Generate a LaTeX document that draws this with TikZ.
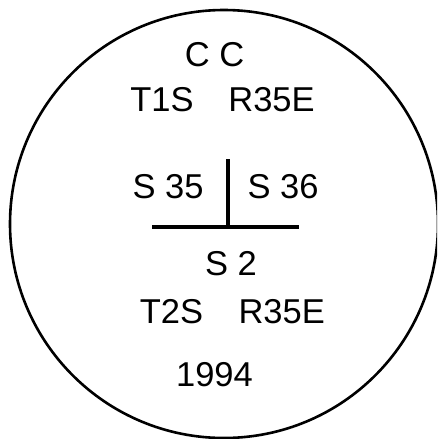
\documentclass[tikz,border=0pt]{standalone}
\usepackage{fontspec}
\setmainfont{Liberation Sans}
\begin{document}
\begin{tikzpicture}[x=1pt,y=-1pt,
  lbl/.style={inner sep=0pt,anchor=base,font=\fontsize{34.5}{40}\selectfont}]
\useasboundingbox (0,0) rectangle (437,439);
\begin{scope}
\clip (0,0) rectangle (437,439);
\draw[line width=2.6pt] (224,224) circle[radius=214];
\end{scope}
\node[lbl] (cc) at (214.5,66) {C C};
\node[lbl] (t1s) at (162,111) {T1S};
\node[lbl] (r35a) at (271.5,111) {R35E};
\node[lbl] (s35) at (168,198) {S 35};
\node[lbl] (s36) at (283,198) {S 36};
\node[lbl] (s2) at (231,275) {S 2};
\node[lbl] (t2s) at (171.5,323) {T2S};
\node[lbl] (r35b) at (281.7,323) {R35E};
\node[lbl] (yr) at (214.5,386) {1994};
\coordinate (vt) at (228,159);
\coordinate (vb) at (228,227);
\coordinate (hl) at (152,227);
\coordinate (hr) at (299,227);
\draw[line width=3.2pt] (vt) -- (vb);
\draw[line width=3.2pt] (hl) -- (hr);
\end{tikzpicture}
\end{document}
